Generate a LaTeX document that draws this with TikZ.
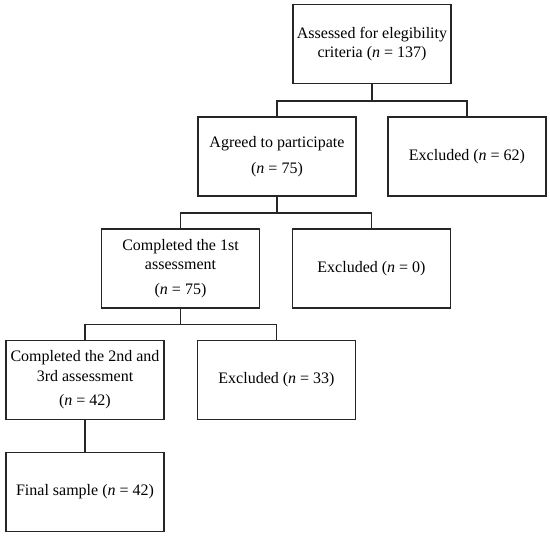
\documentclass[tikz,border=0pt]{standalone}
\usepackage{fontspec}
\setmainfont{Liberation Serif}
\begin{document}
\begin{tikzpicture}[x=1pt,y=-1pt,
  box/.style={draw=black!85, line width=1.1pt, minimum width=158pt, minimum height=79pt, inner sep=0pt, align=center, font=\fontsize{16}{19.5}\selectfont},
  link/.style={draw=black!85, line width=1.3pt}]
\useasboundingbox (0,0) rectangle (550,536);
\node[box] (a) at (372,44) {Assessed for elegibility\\criteria (\textit{n} = 137)};
\node[box] (b) at (277,156.5) {Agreed to participate\\[7pt](\textit{n} = 75)};
\node[box] (c) at (467,156.5) {Excluded (\textit{n} = 62)};
\node[box] (d) at (180.5,268.5) {Completed the 1st\\assessment\\[5pt](\textit{n} = 75)};
\node[box] (e) at (371.5,268.5) {Excluded (\textit{n} = 0)};
\node[box] (f) at (85,380) {Completed the 2nd and\\3rd assessment\\[5pt](\textit{n} = 42)};
\node[box] (g) at (276.5,380) {Excluded (\textit{n} = 33)};
\node[box] (h) at (85,492) {Final sample (\textit{n} = 42)};
\draw[link] (a.south) -- ++(0,17) -| (b.north);
\draw[link] (a.south) ++(0,17) -| (c.north);
\draw[link] (b.south) -- ++(0,16.5) -| (d.north);
\draw[link] (b.south) ++(0,16.5) -| (e.north);
\draw[link] (d.south) -- ++(0,16) -| (f.north);
\draw[link] (d.south) ++(0,16) -| (g.north);
\draw[link] (f.south) -- (h.north);
\end{tikzpicture}
\end{document}
